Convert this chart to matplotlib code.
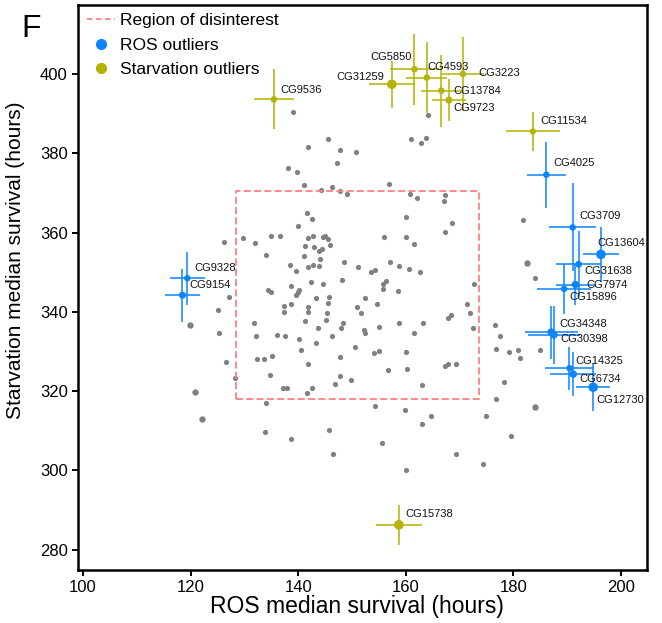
import matplotlib
matplotlib.use("Agg")
import matplotlib.pyplot as plt
from matplotlib.lines import Line2D
import numpy as np

plt.rcParams['font.family'] = ['Liberation Sans', 'DejaVu Sans']

# background genes (ROS median, starvation median)
bg_x = [139.0, 164.2, 145.6, 141.9, 147.8, 150.8, 160.9, 162.8, 163.7, 147.2,
        138.1, 139.8, 141.0, 144.2, 146.2, 147.8, 149.1, 156.8, 160.7, 162.0,
        167.3, 167.0, 141.6, 142.6, 139.9, 160.0, 168.6, 167.3, 129.8, 131.9,
        134.9, 136.7, 141.9, 142.7, 144.6, 145.0, 145.5, 145.9, 141.3, 142.9,
        143.9, 144.4, 155.9, 160.0, 161.6, 134.0, 141.0, 144.0, 138.4, 141.8,
        142.8, 143.9, 139.6, 148.6, 151.1, 153.5, 154.3, 157.1, 158.7, 160.6,
        162.7, 142.3, 144.7, 148.2, 138.6, 134.4, 134.9, 140.1, 139.9, 139.6,
        155.8, 156.3, 155.8, 158.6, 172.7, 127.2, 143.4, 145.8, 145.5, 137.3,
        138.6, 141.8, 152.5, 154.6, 150.9, 151.6, 171.4, 172.0, 125.1, 137.3,
        141.9, 145.4, 131.8, 141.2, 145.1, 148.4, 158.7, 163.1, 167.8, 168.3,
        172.4, 125.2, 132.2, 136.0, 137.6, 143.7, 148.0, 146.3, 152.2, 152.5,
        155.1, 161.6, 140.2, 143.4, 140.6, 150.6, 154.1, 155.0, 160.0, 126.6,
        132.4, 133.6, 135.2, 141.8, 147.8, 156.6, 160.2, 167.3, 167.8, 169.4,
        128.2, 134.8, 147.7, 149.9, 146.8, 163.0, 137.1, 137.9, 142.6, 141.7,
        176.6, 177.4, 176.7, 176.7, 134.0, 133.9, 138.6, 145.7, 146.5, 154.2,
        155.6, 159.8, 160.1, 163.0, 164.6, 169.3, 174.4, 174.8, 179.6, 178.2,
        179.2, 180.8, 181.2, 185.0, 181.8, 184.0, 126.3]
bg_y = [390.5, 389.7, 383.5, 381.6, 380.8, 380.4, 383.6, 382.6, 383.9, 377.6,
        376.3, 375.3, 371.9, 370.7, 371.5, 370.6, 369.7, 372.3, 369.8, 368.6,
        369.4, 367.9, 365.0, 363.5, 361.7, 363.9, 362.3, 360.1, 358.6, 357.3,
        359.1, 359.2, 358.6, 359.2, 359.0, 359.1, 358.4, 356.8, 356.5, 356.4,
        355.4, 355.8, 358.8, 359.0, 357.1, 354.3, 354.1, 353.3, 351.7, 351.2,
        351.9, 351.6, 350.3, 352.7, 351.3, 350.1, 350.6, 352.7, 351.6, 350.8,
        350.1, 347.5, 347.1, 348.1, 346.5, 345.5, 344.9, 345.6, 344.9, 344.3,
        347.0, 347.7, 345.8, 345.3, 347.0, 343.8, 343.6, 343.8, 342.3, 341.6,
        341.9, 341.2, 343.4, 342.0, 341.2, 339.6, 341.9, 339.6, 340.6, 340.0,
        340.0, 339.7, 337.2, 337.7, 337.9, 337.1, 337.1, 337.2, 338.5, 339.1,
        335.9, 334.7, 333.9, 334.1, 334.0, 335.9, 335.9, 333.9, 335.4, 334.8,
        336.2, 334.6, 333.1, 332.1, 330.5, 331.1, 329.6, 330.1, 329.8, 327.3,
        328.1, 328.1, 328.9, 326.8, 328.5, 325.4, 325.5, 326.4, 326.9, 326.9,
        323.4, 324.1, 323.9, 322.7, 321.7, 321.6, 320.9, 320.9, 320.9, 319.5,
        336.6, 333.9, 330.6, 318.1, 316.9, 309.7, 307.9, 310.2, 304.2, 316.3,
        307.0, 315.3, 300.0, 311.8, 313.8, 304.2, 301.6, 313.8, 308.6, 322.2,
        329.8, 330.4, 328.3, 330.3, 363.3, 348.5, 357.5]
bg_big_x = [119.9, 120.8, 122.1, 184.0, 182.6]
bg_big_y = [336.6, 319.7, 312.9, 316.1, 352.4]

# starvation outliers
st_names = ['CG9536', 'CG5850', 'CG31259', 'CG4593', 'CG3223', 'CG13784',
            'CG9723', 'CG11534', 'CG15738']
st_x = [135.5, 161.6, 157.4, 163.9, 170.6, 166.6, 168.0, 183.6, 158.7]
st_y = [393.6, 401.2, 397.4, 399.1, 400.0, 395.8, 393.4, 385.5, 286.3]
st_xerr = [3.75, 4.6, 4.3, 3.8, 3.9, 3.8, 3.2, 5.0, 4.3]
st_yerr = [7.6, 9.0, 5.9, 9.0, 9.3, 9.1, 5.3, 4.8, 5.1]

# ROS outliers
ros_names = ['CG4025', 'CG3709', 'CG13604', 'CG31638', 'CG7974', 'CG15896',
             'CG34348', 'CG30398', 'CG14325', 'CG6734', 'CG12730', 'CG9328',
             'CG9154']
ros_x = [186.1, 191.0, 196.25, 192.1, 191.5, 189.4, 187.0, 187.5, 190.4,
         191.1, 194.8, 119.4, 118.5]
ros_y = [374.6, 361.3, 354.5, 352.0, 346.9, 345.8, 334.9, 334.2, 325.8,
         324.3, 321.0, 348.5, 344.2]
ros_xerr = [3.6, 4.4, 3.4, 4.2, 3.6, 5.0, 4.9, 4.8, 4.6, 4.3, 3.2, 3.2, 3.2]
ros_yerr = [8.3, 11.1, 6.9, 8.3, 5.2, 6.3, 6.7, 7.3, 5.4, 5.6, 6.1, 6.7, 6.7]

# region of disinterest
reg_x = [128.4, 173.6]
reg_y = [318.0, 370.6]

# marker sizes and label placement (pixels, up positive)
st_size = [22, 22, 47, 22, 22, 22, 26, 20, 47]
ros_size = [22, 22, 47, 24, 29, 22, 29, 29, 22, 29, 47, 22, 26]
st_lab = [(6, 9, 'left'), (-3, 12, 'right'), (-8, 7.6, 'right'), (1, 11, 'left'),
          (15, 1.3, 'left'), (12, 0, 'left'), (4, -8.3, 'left'), (7, 10.3, 'left'),
          (7, 10.7, 'left')]
ros_lab = [(6.7, 11.3, 'left'), (6.7, 11.3, 'left'), (-3.7, 11, 'left'),
           (6, -6.3, 'left'), (10.7, 0, 'left'), (5, -7.7, 'left'),
           (7.7, 8, 'left'), (7, -4.3, 'left'), (6, 7.3, 'left'),
           (6.4, -5, 'left'), (3, -12.7, 'left'), (7, 10.6, 'left'),
           (6.7, 10, 'left')]

grey = '#808080'
blue = '#0a84ff'
olive = '#b3b300'
pink = '#ff8080'

fig = plt.figure(figsize=(6.62, 6.23), dpi=100)
ax = fig.add_axes([78/662, 1-570/623, (647-78)/662, (570-5)/623])

ax.scatter(bg_x, bg_y, s=14, color=grey, linewidths=0, zorder=2)
ax.scatter(bg_big_x, bg_big_y, s=21, color=grey, linewidths=0, zorder=2)

ax.plot([reg_x[0], reg_x[1], reg_x[1], reg_x[0], reg_x[0]],
        [reg_y[0], reg_y[0], reg_y[1], reg_y[1], reg_y[0]],
        ls=(0, (3.9, 1.8)), color=pink, lw=1.3, zorder=3)

for xs, ys, xe, ye, sz, col, names, labs in [
        (st_x, st_y, st_xerr, st_yerr, st_size, olive, st_names, st_lab),
        (ros_x, ros_y, ros_xerr, ros_yerr, ros_size, blue, ros_names, ros_lab)]:
    ax.errorbar(xs, ys, xerr=xe, yerr=ye, fmt='none', ecolor=col,
                elinewidth=1.1, capsize=0, zorder=4)
    ax.scatter(xs, ys, s=sz, color=col, linewidths=0, zorder=5)
    for i, n in enumerate(names):
        dx, dy, ha = labs[i]
        ax.annotate(n, (xs[i], ys[i]), xytext=(dx, dy), textcoords='offset pixels',
                    ha=ha, va='center', fontsize=8, color='#111111', zorder=6)

ax.set_xlim(99.1, 204.8)
ax.set_ylim(274.9, 417.4)
ax.set_xticks([100, 120, 140, 160, 180, 200])
ax.set_yticks([280, 300, 320, 340, 360, 380, 400])
ax.tick_params(direction='out', length=4.3, width=1.4, labelsize=12, pad=3,
               colors='black')
for sp in ax.spines.values():
    sp.set_linewidth(1.8)

ax.set_xlabel('ROS median survival (hours)', fontsize=16.5)
ax.set_ylabel('Starvation median survival (hours)', fontsize=15)
ax.xaxis.set_label_coords(0.49, -0.045)
ax.yaxis.set_label_coords(-0.093, 0.548)

handles = [Line2D([0], [0], color=pink, ls=(0, (3, 2)), lw=1.3),
           Line2D([0], [0], marker='o', color=blue, ls='none', markersize=7),
           Line2D([0], [0], marker='o', color=olive, ls='none', markersize=7)]
ax.legend(handles, ['Region of disinterest', 'ROS outliers', 'Starvation outliers'],
          loc='upper left', bbox_to_anchor=(-0.004, 1.006), frameon=False,
          fontsize=12.5, handlelength=1.6, handletextpad=0.3,
          labelspacing=0.55, borderaxespad=0.25)

fig.text(21/662, 1-37/623, 'F', fontsize=23, va='baseline')

fig.savefig('out.png', dpi=100)
